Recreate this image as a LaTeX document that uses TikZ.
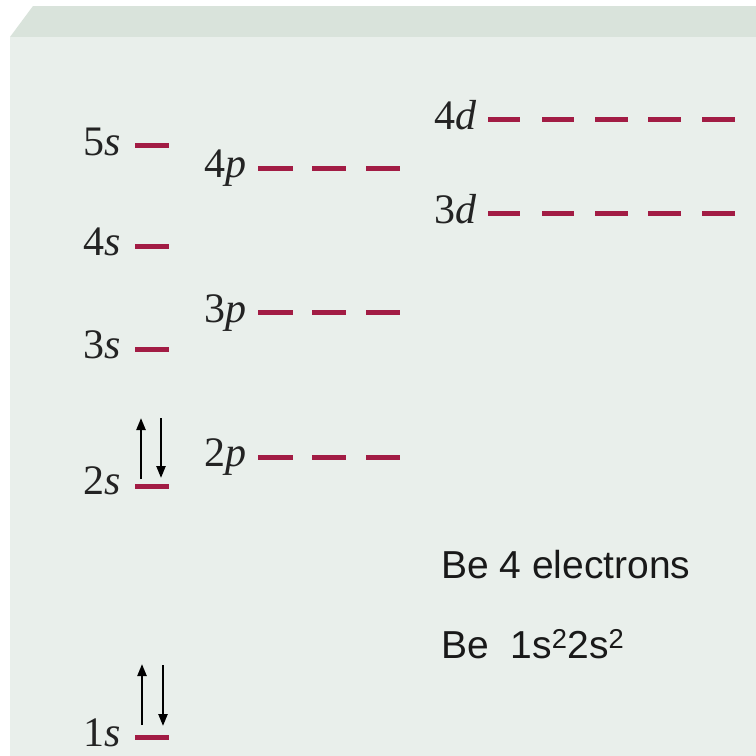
\documentclass[tikz,border=0pt]{standalone}
\usepackage{fontspec}
\setmainfont{Liberation Serif}
\newfontfamily\arialf{Liberation Sans}
\usetikzlibrary{arrows.meta}
\definecolor{slabtop}{RGB}{217,227,219}
\definecolor{slabfront}{RGB}{233,239,235}
\definecolor{lvl}{RGB}{162,28,68}
\definecolor{labcol}{RGB}{35,35,35}
\tikzset{
  lev/.style={draw=lvl,line width=5pt},
  lab/.style={anchor=base east,inner sep=0pt,text=labcol,font=\fontsize{42}{44}\selectfont},
  spin/.style={draw=black,line width=2.3pt,-{Triangle[length=12pt,width=9pt]}},
  info/.style={anchor=base west,inner sep=0pt,text=black!90,font=\arialf\fontsize{39}{42}\selectfont}
}
\begin{document}
\begin{tikzpicture}[x=1pt,y=-1pt]
\useasboundingbox (0,0) rectangle (756,756);
\fill[white] (0,0) rectangle (756,756);
\fill[slabtop] (33,6) -- (756,6) -- (756,37) -- (10,37) -- cycle;
\fill[slabfront] (10,37) rectangle (756,756);
% s levels
\node[lab] (l5s) at (121,155) {5\textit{s}};
\node[lab] (l4s) at (121,255) {4\textit{s}};
\node[lab] (l3s) at (121,358) {3\textit{s}};
\node[lab] (l2s) at (121,494) {2\textit{s}};
\node[lab] (l1s) at (121,746) {1\textit{s}};
\draw[lev] (135,145) -- (169,145);
\draw[lev] (135,246) -- (169,246);
\draw[lev] (135,349) -- (169,349);
\draw[lev] (135,486) -- (169,486);
\draw[lev] (135,737) -- (169,737);
% p levels
\node[lab] (l4p) at (247,177) {4\textit{p}};
\node[lab] (l3p) at (247,322) {3\textit{p}};
\node[lab] (l2p) at (247,466) {2\textit{p}};
\foreach \y in {168,312,457}{
  \draw[lev] (258,\y) -- (293,\y);
  \draw[lev] (312,\y) -- (346,\y);
  \draw[lev] (366,\y) -- (400,\y);
}
% d levels
\node[lab] (l4d) at (477,129) {4\textit{d}};
\node[lab] (l3d) at (477,223) {3\textit{d}};
\foreach \y in {119,213}{
  \draw[lev] (488,\y) -- (520,\y);
  \draw[lev] (542,\y) -- (574,\y);
  \draw[lev] (595,\y) -- (628,\y);
  \draw[lev] (648,\y) -- (681,\y);
  \draw[lev] (702,\y) -- (735,\y);
}
% electrons
\draw[spin] (141,479) -- (141,418);
\draw[spin] (161,418) -- (161,478);
\draw[spin] (142,725) -- (142,664);
\draw[spin] (163,665) -- (163,726);
% text
\node[info] (t1) at (441,578) {Be 4 electrons};
\node[info] (t2) at (441,658) {Be\ \ 1s\textsuperscript{2}2s\textsuperscript{2}};
\end{tikzpicture}
\end{document}
